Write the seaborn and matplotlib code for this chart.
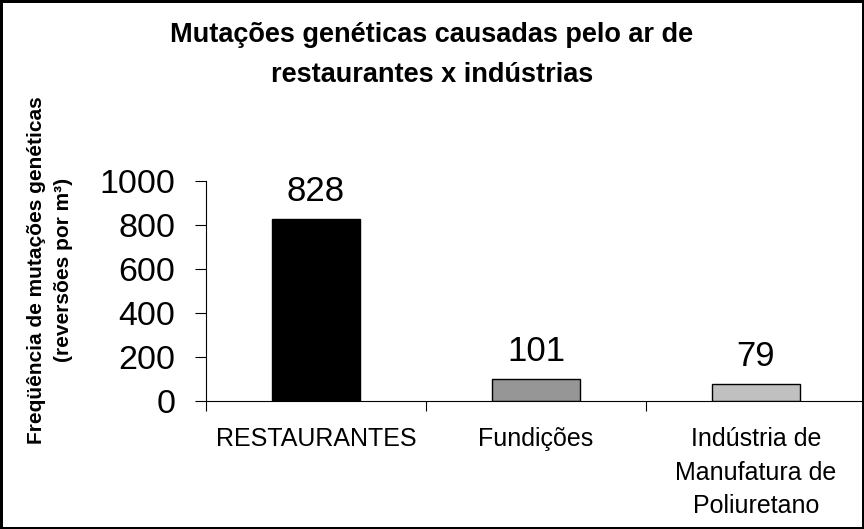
import matplotlib
matplotlib.use("Agg")
import matplotlib.pyplot as plt
import seaborn as sns
import pandas as pd

# chart data
categories = ["RESTAURANTES", "Fundições", "Indústria de\nManufatura de\nPoliuretano"]
frequencia = [828, 101, 79]
bar_colors = ["#000000", "#969696", "#C0C0C0"]
y_ticks = [0, 200, 400, 600, 800, 1000]

titulo = "Mutações genéticas causadas pelo ar de\nrestaurantes x indústrias"
y_titulo = "Freqüência de mutações genéticas\n(reversões por m³)"

sns.set_style("white")
plt.rcParams["font.family"] = ["Liberation Sans", "DejaVu Sans"]
plt.rcParams["text.color"] = "black"
plt.rcParams["xtick.color"] = "black"
plt.rcParams["ytick.color"] = "black"

df = pd.DataFrame({"categoria": categories, "freq": frequencia})

fig = plt.figure(figsize=(8.64, 5.29), dpi=100)
fig.patch.set_facecolor("white")
fig.patch.set_edgecolor("black")
fig.patch.set_linewidth(2.5)

ax = fig.add_axes([206 / 864, 1 - 401 / 529, (866 - 206) / 864, 220 / 529])
sns.barplot(data=df, x="categoria", y="freq", hue="categoria", palette=bar_colors,
            edgecolor="black", linewidth=1.0, width=0.4, legend=False, ax=ax)

for cont in ax.containers:
    ax.bar_label(cont, fontsize=25, padding=8, color="black")

ax.set_xlim(-0.5, 2.5)
ax.set_ylim(0, 1000)
ax.set_yticks(y_ticks)
ax.tick_params(axis="y", direction="out", length=8, width=0.8, pad=14,
               labelsize=24.5, left=True, color="black", labelcolor="black")
ax.set_xticks([-0.5, 0.5, 1.5, 2.5], minor=True)
ax.tick_params(axis="x", which="minor", direction="out", length=7, width=0.8,
               bottom=True, color="black")
ax.tick_params(axis="x", which="major", length=0, pad=19, labelsize=18,
               labelcolor="black")
for lbl in ax.get_xticklabels():
    lbl.set_linespacing(1.5)
    lbl.set_verticalalignment("top")

ax.set_xlabel("")
ax.set_ylabel("")
for side in ["top", "right"]:
    ax.spines[side].set_visible(False)
for side in ["left", "bottom"]:
    ax.spines[side].set_color("black")
    ax.spines[side].set_linewidth(0.8)
ax.set_facecolor("white")
ax.patch.set_alpha(0)

fig.text(0.5, 1 - 55 / 529, titulo, ha="center", va="center", fontsize=19.5,
         fontweight="bold", linespacing=1.7, color="black")
fig.text(50 / 864, 1 - 270 / 529, y_titulo, ha="center", va="center", rotation=90,
         fontsize=15, fontweight="bold", linespacing=1.47, multialignment="center",
         color="black")

fig.savefig("out.png", dpi=100)
